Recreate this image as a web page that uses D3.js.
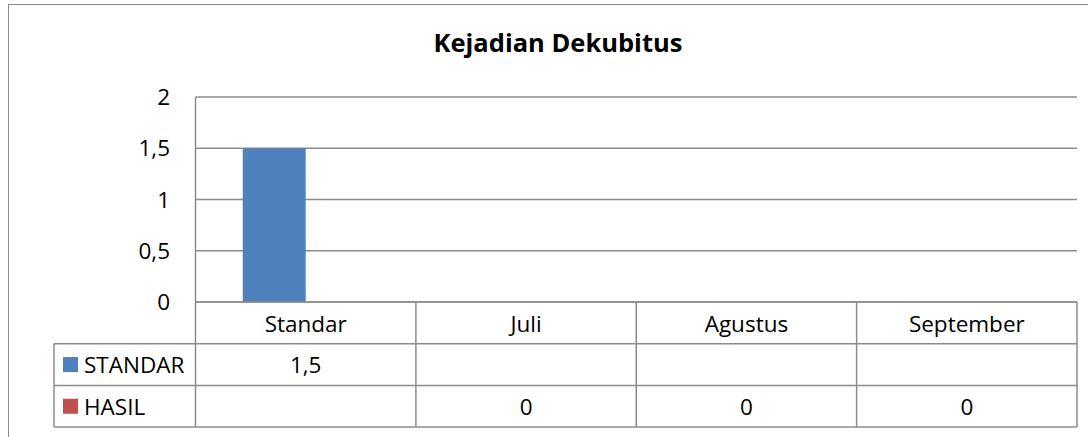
<!DOCTYPE html>
<html>
<head>
<meta charset="utf-8">
<script src="https://cdn.jsdelivr.net/npm/d3@7"></script>
<style>
  body { margin: 0; background: #fff; }
  svg { display: block; font-family: "Open Sans", sans-serif; }
</style>
</head>
<body>
<svg id="chart" width="1088" height="437"></svg>
<script>
"use strict";

// --- data ---
const categories = ["Standar", "Juli", "Agustus", "September"]
const seriesNames = ["STANDAR", "HASIL"]
const standarValues = [1.5, null, null, null]
const hasilValues = [null, 0, 0, 0]
const yTicks = [0, 0.5, 1, 1.5, 2]
const titleText = "Kejadian Dekubitus"

const seriesColors = ["#4F81BD", "#C0504D"]
const seriesValues = [standarValues, hasilValues]

// --- layout ---
const plot = { left: 195.5, right: 1077, top: 97, bottom: 302 }
const rowH = 41.7
const legendLeft = 54
const lineColor = "#8c8c8c"
const fontSize = 22.5

const locale = d3.formatLocale({ decimal: ",", thousands: ".", grouping: [3], currency: ["", ""] })
const fmt = locale.format("~g")

const svg = d3.select("#chart")

// outer frame (runs past the window on the right and bottom)
svg.append("rect")
    .attr("x", 8.5).attr("y", 4.5)
    .attr("width", 1100).attr("height", 460)
    .attr("fill", "none")
    .attr("stroke", "#8a8a8a")
    .attr("stroke-width", 1)

svg.append("text")
    .attr("x", 558).attr("y", 52)
    .attr("text-anchor", "middle")
    .attr("font-weight", "bold")
    .attr("font-size", 25.5)
    .attr("fill", "#000")
    .text(titleText)

const x = d3.scaleBand().domain(categories).range([plot.left, plot.right])
const bw = x.bandwidth()
// two bars per group, gap width 150%
const barW = bw / (seriesNames.length + 1.5)
const xs = d3.scaleBand().domain(seriesNames)
    .range([barW * 0.75, barW * 0.75 + barW * seriesNames.length])

const y = d3.scaleLinear().domain([0, 2]).range([plot.bottom, plot.top])

// gridlines
svg.append("g")
    .selectAll("line")
    .data(yTicks)
    .join("line")
    .attr("x1", plot.left).attr("x2", plot.right)
    .attr("y1", d => y(d)).attr("y2", d => y(d))
    .attr("stroke", lineColor)
    .attr("stroke-width", 1.5)

// y tick labels
svg.append("g")
    .selectAll("text")
    .data(yTicks)
    .join("text")
    .attr("x", 170)
    .attr("y", d => y(d) + 8)
    .attr("text-anchor", "end")
    .attr("font-size", fontSize)
    .text(d => fmt(d))

// bars
seriesNames.forEach((name, si) => {
    svg.append("g")
        .selectAll("rect")
        .data(categories.map((c, i) => ({ c, v: seriesValues[si][i] })).filter(d => d.v !== null))
        .join("rect")
        .attr("x", d => x(d.c) + xs(name))
        .attr("width", xs.bandwidth())
        .attr("y", d => y(d.v))
        .attr("height", d => y(0) - y(d.v))
        .attr("fill", seriesColors[si])
})

// --- data table ---
const tableTop = plot.bottom
const tableBottom = tableTop + rowH * (seriesNames.length + 1)
const t = svg.append("g").attr("stroke", lineColor).attr("stroke-width", 1.5)

// vertical lines for category columns
const colEdges = categories.map(c => x(c)).concat([plot.right])
t.selectAll("line.v")
    .data(colEdges)
    .join("line")
    .attr("class", "v")
    .attr("x1", d => d).attr("x2", d => d)
    .attr("y1", (d, i) => i === 0 ? plot.top : tableTop)
    .attr("y2", tableBottom)

// legend column left edge
t.append("line")
    .attr("x1", legendLeft).attr("x2", legendLeft)
    .attr("y1", tableTop + rowH).attr("y2", tableBottom)

// horizontal lines
const rowEdges = d3.range(seriesNames.length + 2).map(i => tableTop + rowH * i)
t.selectAll("line.h")
    .data(rowEdges)
    .join("line")
    .attr("class", "h")
    .attr("x1", (d, i) => i === 0 ? plot.left : legendLeft)
    .attr("x2", plot.right)
    .attr("y1", d => d).attr("y2", d => d)

// category labels
svg.append("g")
    .selectAll("text")
    .data(categories)
    .join("text")
    .attr("x", d => x(d) + bw / 2)
    .attr("y", tableTop + rowH / 2 + 9)
    .attr("text-anchor", "middle")
    .attr("font-size", fontSize)
    .text(d => d)

// series rows
seriesNames.forEach((name, si) => {
    const rowMid = tableTop + rowH * (si + 1) + rowH / 2
    svg.append("rect")
        .attr("x", 63).attr("y", rowMid - 7.5)
        .attr("width", 15).attr("height", 15)
        .attr("fill", seriesColors[si])
    svg.append("text")
        .attr("x", 84).attr("y", rowMid + 8.5)
        .attr("font-size", fontSize)
        .text(name)
    svg.append("g")
        .selectAll("text")
        .data(categories.map((c, i) => ({ c, v: seriesValues[si][i] })).filter(d => d.v !== null))
        .join("text")
        .attr("x", d => x(d.c) + bw / 2)
        .attr("y", rowMid + 8.5)
        .attr("text-anchor", "middle")
        .attr("font-size", fontSize)
        .text(d => fmt(d.v))
})
</script>
</body>
</html>
